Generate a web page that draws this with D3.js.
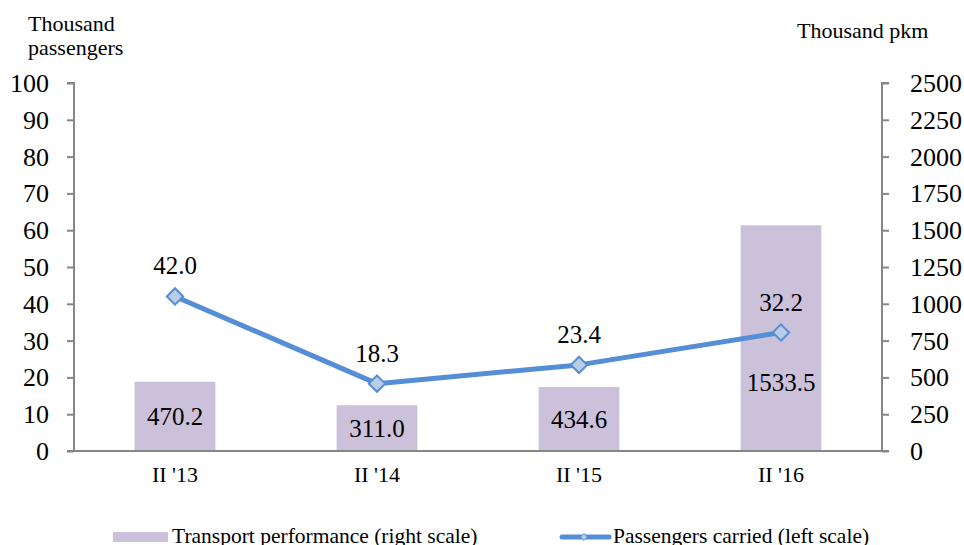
<!DOCTYPE html>
<html><head><meta charset="utf-8">
<script src="https://cdn.jsdelivr.net/npm/d3@7"></script>
<style>
body{margin:0;background:#fff;}
svg text{font-family:'Liberation Serif','Times New Roman',Times,'DejaVu Serif','Noto Serif',serif !important;fill:#000;}
</style></head>
<body><svg id="c" width="964" height="545"></svg>
<script>
const categories = ["II '13", "II '14", "II '15", "II '16"];
const transportPerformance = [470.2, 311.0, 434.6, 1533.5];
const passengersCarried = [42.0, 18.3, 23.4, 32.2];
const leftTicks = [0, 10, 20, 30, 40, 50, 60, 70, 80, 90, 100];
const rightTicks = [0, 250, 500, 750, 1000, 1250, 1500, 1750, 2000, 2250, 2500];

const svg = d3.select("#c");
const L = 74, R = 882, T = 83, B = 451;
const axisColor = "#868686";
const barColor = "#CCC1DA";
const lineColor = "#558ED5";
const markerFill = "#B9CDE5";

const x = d3.scaleBand().domain(categories).range([L, R]).paddingInner(0.6).paddingOuter(0.3);
const yL = d3.scaleLinear().domain([0, 100]).range([B, T]);
const yR = d3.scaleLinear().domain([0, 2500]).range([B, T]);

// bars
svg.append("g").selectAll("rect").data(categories).join("rect")
  .attr("x", d => x(d)).attr("width", x.bandwidth())
  .attr("y", (d, i) => yR(transportPerformance[i]))
  .attr("height", (d, i) => B - yR(transportPerformance[i]))
  .attr("fill", barColor);

// left axis
const gl = svg.append("g").attr("transform", `translate(${L},0)`)
  .call(d3.axisLeft(yL).tickValues(leftTicks).tickSize(7).tickPadding(18).tickFormat(d3.format("d")));
gl.attr("font-family", null);
gl.select(".domain").attr("stroke", axisColor).attr("stroke-width", 2).attr("d", `M-7,${T}H0V${B}`);
gl.selectAll(".tick line").attr("stroke", axisColor).attr("stroke-width", 2);
gl.selectAll(".tick text").attr("font-size", 26).attr("fill", "#000").attr("dy", "0.33em");

// right axis
const gr = svg.append("g").attr("transform", `translate(${R},0)`)
  .call(d3.axisRight(yR).tickValues(rightTicks).tickSize(7).tickPadding(21).tickFormat(d3.format("d")));
gr.attr("font-family", null);
gr.select(".domain").attr("stroke", axisColor).attr("stroke-width", 2).attr("d", `M7,${T}H0V${B}`);
gr.selectAll(".tick line").attr("stroke", axisColor).attr("stroke-width", 2);
gr.selectAll(".tick text").attr("font-size", 26).attr("fill", "#000").attr("dy", "0.33em");

// baseline / x axis
const gx = svg.append("g").attr("transform", `translate(0,${B})`)
  .call(d3.axisBottom(x).tickSize(0).tickPadding(14));
gx.attr("font-family", null);
gx.select(".domain").attr("stroke", axisColor).attr("stroke-width", 2).attr("d", `M${L - 7},0H${R + 7}`);
gx.selectAll(".tick text").attr("font-size", 22).attr("fill", "#000").attr("dy", "0.75em");

// line
const pts = categories.map((c, i) => [x(c) + x.bandwidth() / 2, yL(passengersCarried[i])]);
svg.append("path").attr("d", d3.line()(pts)).attr("fill", "none")
  .attr("stroke", lineColor).attr("stroke-width", 5).attr("stroke-linejoin", "round");
const diamond = d3.symbol().type(d3.symbolDiamond2).size(170);
svg.append("g").selectAll("path").data(pts).join("path")
  .attr("d", diamond).attr("transform", d => `translate(${d[0]},${d[1]})`)
  .attr("fill", markerFill).attr("stroke", lineColor).attr("stroke-width", 2);

// line labels
svg.append("g").selectAll("text").data(categories).join("text")
  .attr("x", (d, i) => pts[i][0]).attr("y", (d, i) => pts[i][1] - 22)
  .attr("text-anchor", "middle").attr("font-size", 25)
  .text((d, i) => passengersCarried[i].toFixed(1));

// bar labels
svg.append("g").selectAll("text").data(categories).join("text")
  .attr("x", (d, i) => pts[i][0])
  .attr("y", (d, i) => {
    const c = (yR(transportPerformance[i]) + B) / 2;
    const yy = Math.abs(c - pts[i][1]) < 30 ? pts[i][1] + 50 : c;
    return yy + 8.5;
  })
  .attr("text-anchor", "middle").attr("font-size", 25)
  .text((d, i) => transportPerformance[i].toFixed(1));

// axis titles
const tl = svg.append("text").attr("font-size", 22);
tl.append("tspan").attr("x", 28).attr("y", 31).text("Thousand");
tl.append("tspan").attr("x", 28).attr("y", 55).text("passengers");
svg.append("text").attr("x", 797).attr("y", 38).attr("font-size", 22).text("Thousand pkm");

// legend
svg.append("rect").attr("x", 113).attr("y", 532).attr("width", 55).attr("height", 10).attr("fill", barColor);
svg.append("text").attr("x", 172).attr("y", 543).attr("font-size", 21.5).text("Transport performance (right scale)");
svg.append("line").attr("x1", 562).attr("x2", 609).attr("y1", 537).attr("y2", 537)
  .attr("stroke", lineColor).attr("stroke-width", 5).attr("stroke-linecap", "round");
svg.append("path").attr("d", d3.symbol().type(d3.symbolDiamond2).size(30))
  .attr("transform", "translate(584,537)")
  .attr("fill", markerFill).attr("stroke", lineColor).attr("stroke-width", 1);
svg.append("text").attr("x", 613).attr("y", 543).attr("font-size", 21.5).text("Passengers carried (left scale)");
</script></body></html>
